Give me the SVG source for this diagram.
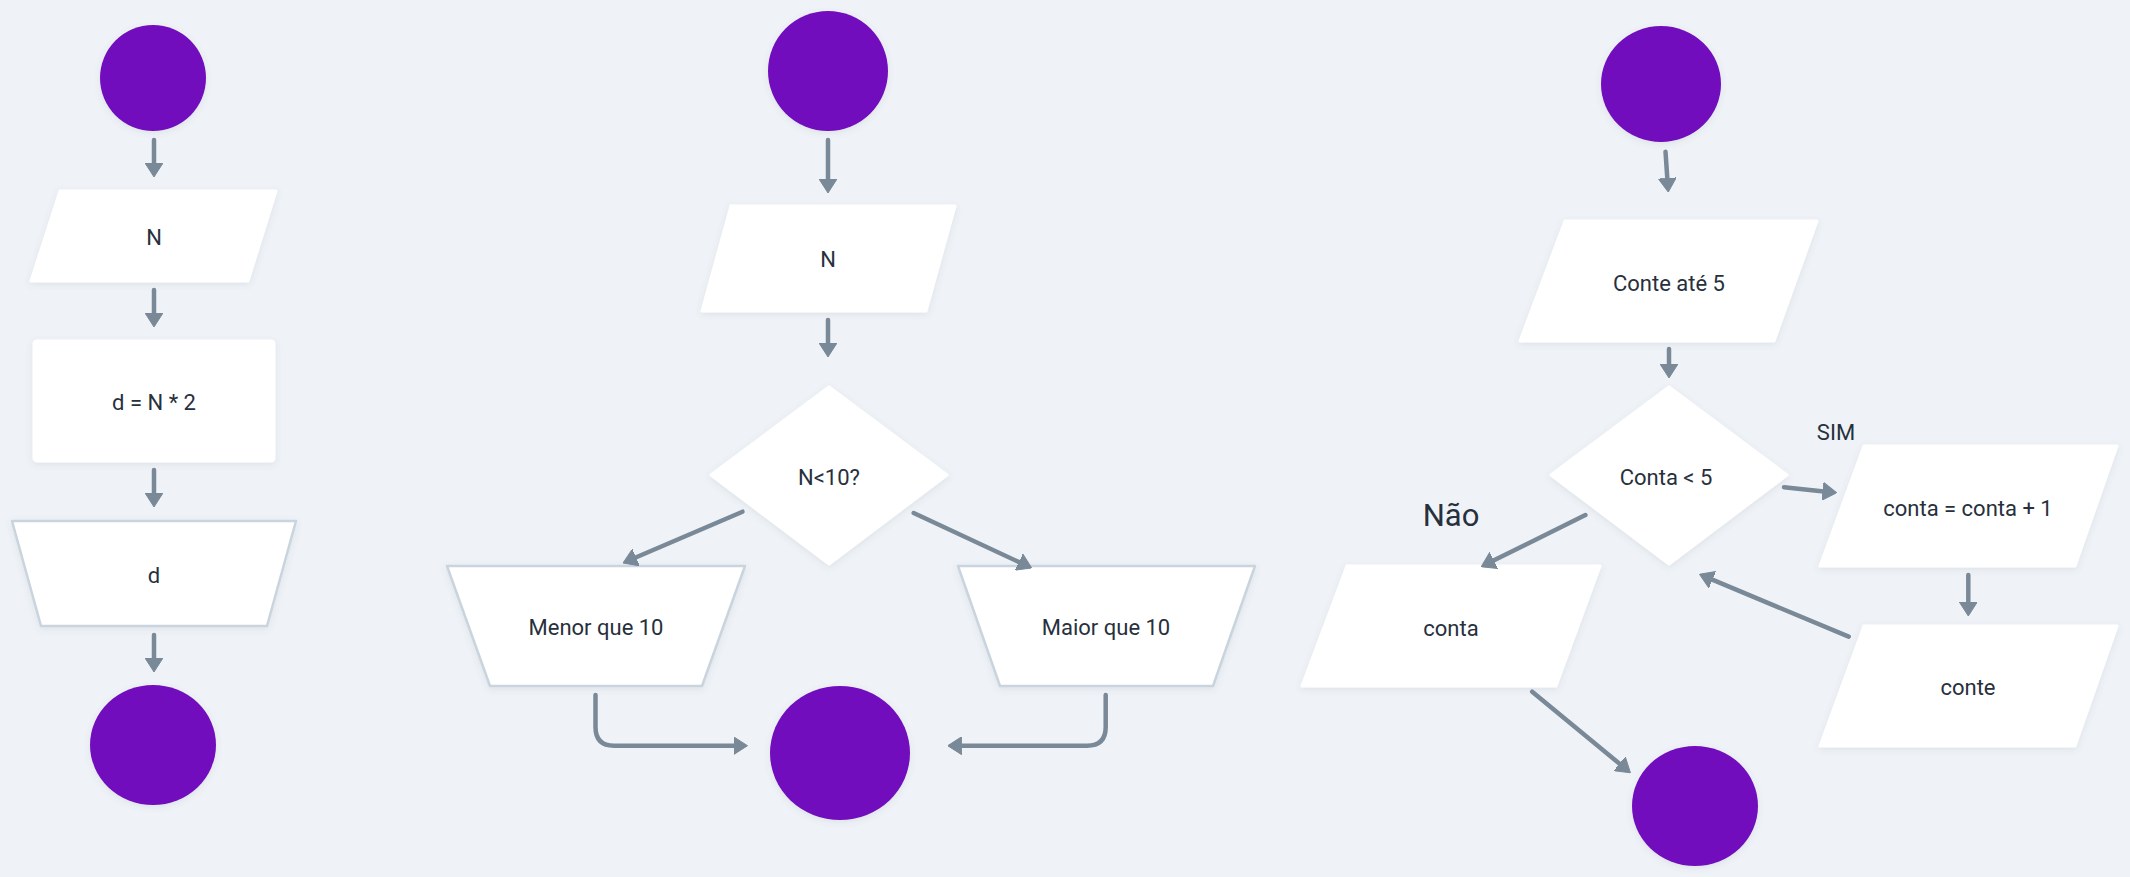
<svg xmlns="http://www.w3.org/2000/svg" width="2130" height="877" viewBox="0 0 2130 877">
<style>
.bg{fill:#eff3f7}
.term{fill:#7210be}
.box{fill:#ffffff;stroke:#ffffff;stroke-width:3;stroke-linejoin:round}
.trap{fill:#ffffff;stroke:#c9d4de;stroke-width:2.5;stroke-linejoin:round}
.lbl{font-family:Roboto,"Liberation Sans",sans-serif;font-size:22px;fill:#27303c;text-anchor:middle;dominant-baseline:central}
.big{font-family:Roboto,"Liberation Sans",sans-serif;font-size:31px;fill:#27303c;text-anchor:middle}
.conn{fill:none;stroke:#7a8997;stroke-width:4.5;stroke-linecap:round;stroke-linejoin:round;marker-end:url(#ah)}
</style>
<defs>
<marker id="ah" markerUnits="userSpaceOnUse" viewBox="0 0 14 18" markerWidth="14" markerHeight="18" refX="6" refY="9" orient="auto">
<path d="M0,0 L14,9 L0,18 Z" fill="#7a8997" stroke="#7a8997" stroke-width="1" stroke-linejoin="round"/>
</marker>
<filter id="sh" x="-20%" y="-20%" width="140%" height="150%">
<feDropShadow dx="0" dy="2" stdDeviation="3" flood-color="#5a6b7c" flood-opacity="0.12"/>
</filter>
</defs>
<rect class="bg" x="0" y="0" width="2130" height="877"/>

<!-- Flow 1 -->
<g id="start1"><circle class="term" cx="153" cy="78" r="53" filter="url(#sh)"/></g>
<g id="in1"><polygon class="box" points="60,191 276,191 248,281 31,281" filter="url(#sh)"/><text class="lbl" x="154" y="237">N</text></g>
<g id="proc1"><rect class="box" x="34" y="341" width="240" height="120" rx="3" filter="url(#sh)"/><text class="lbl" x="154" y="402">d = N * 2</text></g>
<g id="out1"><polygon class="trap" points="12,521 296,521 267,626 41,626" filter="url(#sh)"/><text class="lbl" x="154" y="575">d</text></g>
<g id="end1"><ellipse class="term" cx="153" cy="745" rx="63" ry="60" filter="url(#sh)"/></g>

<!-- Flow 2 -->
<g id="start2"><ellipse class="term" cx="828" cy="71" rx="60" ry="60" filter="url(#sh)"/></g>
<g id="in2"><polygon class="box" points="731,206 955,206 926,311 702,311" filter="url(#sh)"/><text class="lbl" x="828" y="259">N</text></g>
<g id="dec2"><polygon class="box" points="829,387 947,475 829,564 711,475" filter="url(#sh)"/><text class="lbl" x="829" y="477">N&lt;10?</text></g>
<g id="menor"><polygon class="trap" points="447,566 745,566 702,686 490,686" filter="url(#sh)"/><text class="lbl" x="596" y="627">Menor que 10</text></g>
<g id="maior"><polygon class="trap" points="958,566 1255,566 1213,686 1000,686" filter="url(#sh)"/><text class="lbl" x="1106" y="627">Maior que 10</text></g>
<g id="end2"><ellipse class="term" cx="840" cy="753" rx="70" ry="67" filter="url(#sh)"/></g>

<!-- Flow 3 -->
<g id="start3"><ellipse class="term" cx="1661" cy="84" rx="60" ry="58" filter="url(#sh)"/></g>
<g id="in3"><polygon class="box" points="1565,221 1817,221 1774,341 1520,341" filter="url(#sh)"/><text class="lbl" x="1669" y="283">Conte até 5</text></g>
<g id="dec3"><polygon class="box" points="1669,387 1787,475 1669,564 1551,475" filter="url(#sh)"/><text class="lbl" x="1666" y="477">Conta &lt; 5</text></g>
<g id="inc"><polygon class="box" points="1864,446 2117,446 2075,566 1820,566" filter="url(#sh)"/><text class="lbl" x="1968" y="508">conta = conta + 1</text></g>
<g id="conte"><polygon class="box" points="1864,626 2117,626 2075,746 1820,746" filter="url(#sh)"/><text class="lbl" x="1968" y="687">conte</text></g>
<g id="conta"><polygon class="box" points="1347,566 1600,566 1556,686 1302,686" filter="url(#sh)"/><text class="lbl" x="1451" y="628">conta</text></g>
<g id="end3"><ellipse class="term" cx="1695" cy="806" rx="63" ry="60" filter="url(#sh)"/></g>
<g id="labels">
<text class="lbl" x="1836" y="432">SIM</text>
<text class="big" x="1451" y="526">Não</text>
</g>

<g id="connectors">
<path class="conn" d="M154,140 L154,169"/>
<path class="conn" d="M154,290 L154,319"/>
<path class="conn" d="M154,470 L154,499"/>
<path class="conn" d="M154,635 L154,664"/>
<path class="conn" d="M828,140 L828,185"/>
<path class="conn" d="M828,320 L828,349"/>
<path class="conn" d="M742.5,511.7 L630.4,559.8"/>
<path class="conn" d="M913.7,513 L1024.4,564.6"/>
<path class="conn" d="M595.5,695 V727 Q595.5,745.7 614,745.7 H739.5"/>
<path class="conn" d="M1105.7,695 V727 Q1105.7,745.7 1087,745.7 H955.7"/>
<path class="conn" d="M1665.5,151.7 L1667.7,184"/>
<path class="conn" d="M1669,349 L1669,370"/>
<path class="conn" d="M1585.4,515 L1488.4,563.1"/>
<path class="conn" d="M1784,487.3 L1828.6,491.9"/>
<path class="conn" d="M1968.3,575 L1968.3,608"/>
<path class="conn" d="M1848.7,636.7 L1706.9,577.4"/>
<path class="conn" d="M1532.2,691.7 L1624.2,767.6"/>
</g>
</svg>
